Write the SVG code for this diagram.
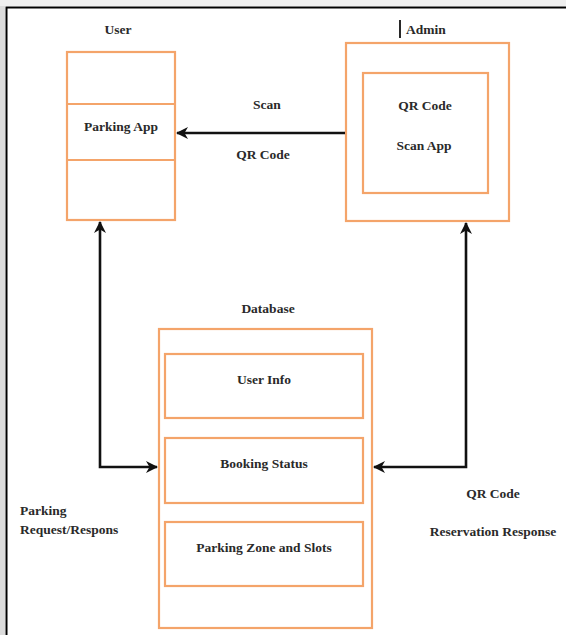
<svg xmlns="http://www.w3.org/2000/svg" width="566" height="635" viewBox="0 0 566 635">
  <style>
    .box { fill: #ffffff; stroke: #F4A46A; stroke-width: 2.2; }
    .lbl { font-family: "Liberation Serif", "DejaVu Serif", "Times New Roman", serif; font-size: 13.5px; font-weight: bold; fill: #2a2a2a; }
    .mid { text-anchor: middle; }
    .wire { fill: none; stroke: #111111; stroke-width: 2.6; }
  </style>
  <defs>
    <marker id="head" viewBox="0 0 12 12" refX="11" refY="6" markerWidth="12" markerHeight="12" markerUnits="userSpaceOnUse" orient="auto-start-reverse">
      <path d="M0,0 L12,6 L0,12 L3.5,6 Z" fill="#111111"/>
    </marker>
  </defs>

  <!-- page background and frame -->
  <rect x="0" y="0" width="566" height="635" fill="#ffffff"/>
  <rect x="0" y="0" width="5" height="635" fill="#dcdcdc"/>
  <rect x="0" y="0" width="566" height="6" fill="#efefef"/>
  <path d="M6.5,635 V7.5 H566" fill="none" stroke="#000000" stroke-width="2"/>

  <!-- User -->
  <g id="user">
    <text class="lbl mid" x="118" y="34" font-family="Liberation Serif, serif">User</text>
    <rect class="box" x="67" y="52" width="108" height="168"/>
    <line class="box" x1="67" y1="104" x2="175" y2="104"/>
    <line class="box" x1="67" y1="160" x2="175" y2="160"/>
    <text class="lbl mid" x="121" y="131">Parking App</text>
  </g>

  <!-- Admin -->
  <g id="admin">
    <line x1="400" y1="20" x2="400" y2="38" stroke="#111111" stroke-width="1.8"/>
    <text class="lbl" x="406" y="34">Admin</text>
    <rect class="box" x="346" y="43" width="163" height="178"/>
    <rect class="box" x="363" y="73" width="125" height="120"/>
    <text class="lbl mid" x="425" y="110">QR Code</text>
    <text class="lbl mid" x="424" y="150">Scan App</text>
  </g>

  <!-- Database -->
  <g id="database">
    <text class="lbl mid" x="268" y="313">Database</text>
    <rect class="box" x="159" y="329" width="213" height="299"/>
    <rect class="box" x="165" y="354" width="198" height="64"/>
    <text class="lbl mid" x="264" y="384">User Info</text>
    <rect class="box" x="165" y="438" width="198" height="65"/>
    <text class="lbl mid" x="264" y="468">Booking Status</text>
    <rect class="box" x="165" y="522" width="198" height="64"/>
    <text class="lbl mid" x="264" y="552">Parking Zone and Slots</text>
  </g>

  <!-- connectors -->
  <g id="connectors">
    <line class="wire" x1="345" y1="133" x2="177" y2="133" marker-end="url(#head)"/>
    <text class="lbl mid" x="267" y="109">Scan</text>
    <text class="lbl mid" x="263" y="159">QR Code</text>

    <path class="wire" d="M100,222 V467 H157" marker-start="url(#head)" marker-end="url(#head)"/>
    <text class="lbl" x="20" y="515">Parking</text>
    <text class="lbl" x="20" y="534">Request/Respons</text>

    <path class="wire" d="M466,223 V467 H374" marker-start="url(#head)" marker-end="url(#head)"/>
    <text class="lbl mid" x="493" y="498">QR Code</text>
    <text class="lbl mid" x="493" y="536">Reservation Response</text>
  </g>
</svg>
